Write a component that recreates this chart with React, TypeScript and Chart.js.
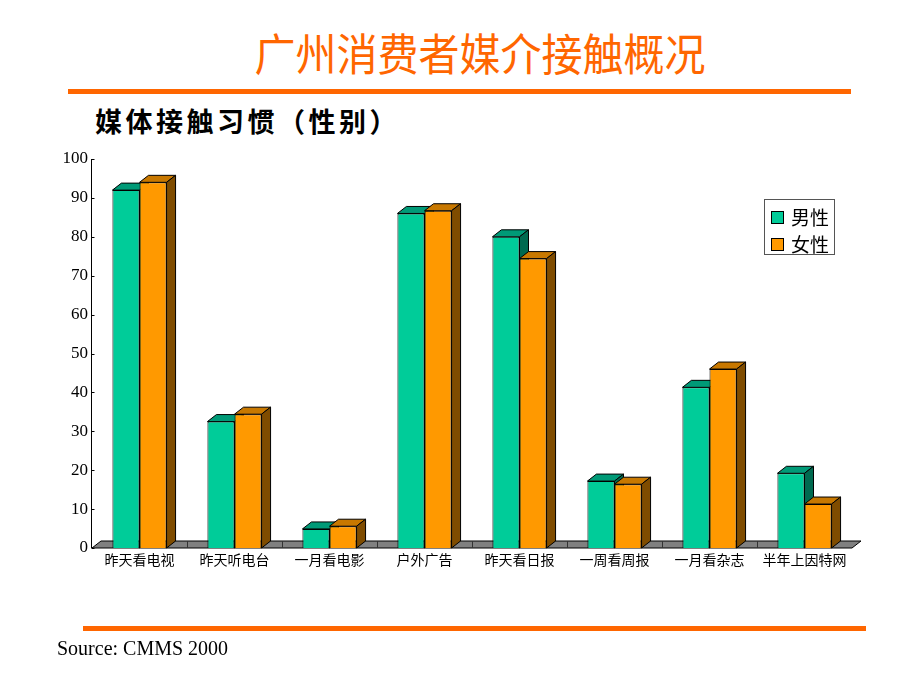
import React, { useEffect, useRef } from "react";
import { Chart, registerables } from "chart.js";

Chart.register(...registerables);

const categories = ["昨天看电视", "昨天听电台", "一月看电影", "户外广告", "昨天看日报", "一周看周报", "一月看杂志", "半年上因特网"];
const maleValues = [92, 32.5, 4.9, 86, 80, 17.2, 41.3, 19.2];
const femaleValues = [94, 34.4, 5.6, 86.7, 74.4, 16.4, 46, 11.3];
const seriesNames = ["男性", "女性"];
const yTicks = [0, 10, 20, 30, 40, 50, 60, 70, 80, 90, 100];

const FRONT = ["#00CC99", "#FF9900"];
const TOP = ["#009A77", "#C87800"];
const SIDE = ["#006A50", "#7F4C00"];
const DX = 9;
const DY = 7;

const threeD = {
  id: "threeD",
  beforeDatasetsDraw(chart: any) {
    const ctx = chart.ctx;
    const { left, right, bottom } = chart.chartArea;
    ctx.save();
    ctx.beginPath();
    ctx.moveTo(left, bottom);
    ctx.lineTo(right, bottom);
    ctx.lineTo(right + DX, bottom - DY);
    ctx.lineTo(left + DX, bottom - DY);
    ctx.closePath();
    ctx.fillStyle = "#808080";
    ctx.fill();
    ctx.lineWidth = 1;
    ctx.strokeStyle = "#000";
    ctx.stroke();
    const xs = chart.scales.x;
    ctx.strokeStyle = "#333";
    for (let i = 1; i < categories.length; i++) {
      const bx = Math.round((xs.getPixelForValue(i - 1) + xs.getPixelForValue(i)) / 2) + 0.5;
      ctx.beginPath();
      ctx.moveTo(bx, bottom - DY);
      ctx.lineTo(bx, bottom);
      ctx.stroke();
    }
    ctx.strokeStyle = "#000";
    for (let i = 0; i < categories.length; i++) {
      for (let d = 0; d < 2; d++) {
        const el = chart.getDatasetMeta(d).data[i];
        const p = el.getProps(["x", "y", "base", "width"], true);
        const l = p.x - p.width / 2;
        const r = p.x + p.width / 2;
        const y = p.y;
        const b = p.base;
        ctx.beginPath();
        ctx.moveTo(l, y);
        ctx.lineTo(r, y);
        ctx.lineTo(r + DX, y - DY);
        ctx.lineTo(l + DX, y - DY);
        ctx.closePath();
        ctx.fillStyle = TOP[d];
        ctx.fill();
        ctx.stroke();
        ctx.beginPath();
        ctx.moveTo(r, y);
        ctx.lineTo(r + DX, y - DY);
        ctx.lineTo(r + DX, b - DY);
        ctx.lineTo(r, b);
        ctx.closePath();
        ctx.fillStyle = SIDE[d];
        ctx.fill();
        ctx.stroke();
      }
    }
    ctx.restore();
  },
  afterDraw(chart: any) {
    const ctx = chart.ctx;
    const { left, top, bottom } = chart.chartArea;
    const ys = chart.scales.y;
    ctx.save();
    ctx.strokeStyle = "#000";
    ctx.lineWidth = 1;
    const ax = Math.round(left) - 0.5;
    ctx.beginPath();
    ctx.moveTo(ax, top);
    ctx.lineTo(ax, bottom);
    ctx.stroke();
    for (const v of yTicks) {
      const py = Math.round(ys.getPixelForValue(v)) + 0.5;
      ctx.beginPath();
      ctx.moveTo(ax, py);
      ctx.lineTo(ax + 3, py);
      ctx.stroke();
    }
    ctx.restore();
  },
};

export default function App() {
  const ref = useRef<HTMLCanvasElement | null>(null);
  useEffect(() => {
    if (!ref.current) return;
    const chart = new Chart(ref.current, {
      type: "bar",
      data: {
        labels: categories,
        datasets: [
          { label: seriesNames[0], data: maleValues, backgroundColor: FRONT[0], borderColor: "#000", borderWidth: 1 },
          { label: seriesNames[1], data: femaleValues, backgroundColor: FRONT[1], borderColor: "#000", borderWidth: 1 },
        ],
      },
      options: {
        animation: false,
        responsive: false,
        maintainAspectRatio: false,
        layout: { padding: { left: 42, top: 159, right: 68, bottom: 112 } },
        datasets: { bar: { categoryPercentage: 0.57, barPercentage: 1.0 } },
        plugins: { legend: { display: false }, tooltip: { enabled: false }, title: { display: false } },
        scales: {
          x: {
            grid: { display: false, drawTicks: false },
            border: { display: false },
            ticks: { color: "#000", padding: 3, font: { family: "'Noto Sans CJK SC'", size: 14 }, maxRotation: 0, autoSkip: false },
            afterFit: (axis: any) => { axis.height = 30; },
          },
          y: {
            min: 0,
            max: 100,
            grid: { display: false, drawTicks: false },
            border: { display: false },
            ticks: {
              stepSize: 10,
              color: "#000",
              padding: 4,
              font: { family: "'Liberation Serif'", size: 17 },
            },
            afterFit: (axis: any) => { axis.width = 50; },
          },
        },
      },
      plugins: [threeD],
    });
    return () => chart.destroy();
  }, []);

  return (
    <div style={{ position: "fixed", left: 0, top: 0, width: 920, height: 690, background: "#fff", overflow: "hidden" }}>
      <div style={{ position: "absolute", left: 40, width: 880, top: 26, textAlign: "center", color: "#FF6600", fontFamily: "'Noto Sans CJK SC'", fontSize: 41, lineHeight: "52px", transform: "scaleY(1.08)" }}>
        广州消费者媒介接触概况
      </div>
      <div style={{ position: "absolute", left: 68, top: 89, width: 783, height: 5, background: "#FF6600" }} />
      <div style={{ position: "absolute", left: 95, top: 103, fontFamily: "'Noto Sans CJK SC'", fontWeight: 700, fontSize: 27, letterSpacing: 3.5, lineHeight: "36px", color: "#000" }}>
        媒体接触习惯（性别）
      </div>
      <canvas ref={ref} width={920} height={690} style={{ position: "absolute", left: 0, top: 0, width: 920, height: 690 }} />
      <div style={{ position: "absolute", left: 764, top: 199, width: 71, height: 56, border: "1px solid #555", background: "#fff", boxSizing: "border-box" }}>
        {seriesNames.map((n, i) => (
          <div key={n} style={{ position: "absolute", left: 6, top: 5 + i * 27, height: 24, display: "flex", alignItems: "center" }}>
            <div style={{ width: 11, height: 11, background: FRONT[i], border: "1px solid #000", marginRight: 7 }} />
            <span style={{ fontFamily: "'Noto Sans CJK SC'", fontSize: 19, lineHeight: "24px", color: "#000" }}>{n}</span>
          </div>
        ))}
      </div>
      <div style={{ position: "absolute", left: 83, top: 626, width: 783, height: 5, background: "#FF6600" }} />
      <div style={{ position: "absolute", left: 57, top: 636, fontFamily: "'Liberation Serif'", fontSize: 20, lineHeight: "24px", color: "#000" }}>
        Source: CMMS 2000
      </div>
    </div>
  );
}
